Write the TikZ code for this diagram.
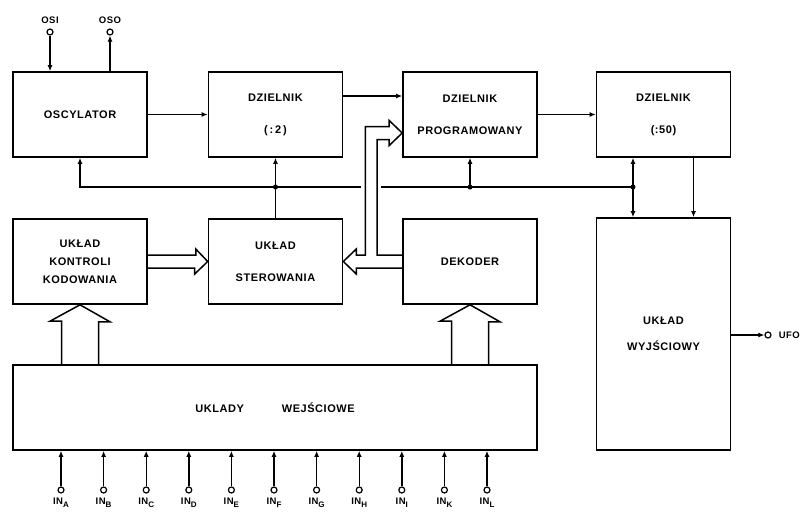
\documentclass[tikz,border=0pt]{standalone}
\usepackage{fontspec}
\newfontfamily\blkfont{Liberation Sans}[LetterSpace=5]
\usetikzlibrary{arrows.meta,calc,positioning}
\newcommand{\insub}[1]{\raisebox{-3pt}{\fontsize{8}{8}\selectfont#1}}

\begin{document}
\begin{tikzpicture}[x=1pt,y=-1pt,
  font=\blkfont\bfseries\fontsize{11}{13}\selectfont,
  blk/.style={draw,line width=1.6pt,minimum width=134pt,minimum height=85pt,align=center,inner sep=2pt},
  sig/.style={-{Latex[length=6pt,width=5pt]},line width=1.4pt},
  ln/.style={line width=1.4pt},
  hollow/.style={line width=1.5pt,line join=miter},
  term/.style={circle,draw,line width=1.2pt,inner sep=0pt,minimum size=6pt,fill=white},
  jn/.style={circle,fill,inner sep=0pt,minimum size=5pt},
  pinlbl/.style={font=\blkfont\bfseries\fontsize{9.5}{10}\selectfont,inner sep=1pt},
]
\useasboundingbox (0,0) rectangle (812,517);
% bloki
\node[blk] (osc) at (80,114.5) {OSCYLATOR};
\node[blk] (dz2) at (275.5,114.5) {DZIELNIK\\[19pt](\,:\,2\,)};
\node[blk] (prog) at (470,114.5) {DZIELNIK\\[19pt]PROGRAMOWANY};
\node[blk] (dz50) at (663.5,114.5) {DZIELNIK\\[19pt](:50)};
\node[blk] (kontr) at (80,261.5) {UKŁAD\\[5pt]KONTROLI\\[5pt]KODOWANIA};
\node[blk] (ster) at (275.5,261.5) {UKŁAD\\[19pt]STEROWANIA};
\node[blk] (dek) at (470,261.5) {DEKODER};
\node[blk,minimum height=232pt] (wyj) at (663.5,334) {UKŁAD\\[13pt]WYJŚCIOWY};
\node[blk,minimum width=524pt] (wej) at (275,407.5) {UKLADY\hspace{38pt}WEJŚCIOWE};
% wejscia i wyjscia oscylatora
\node[term] (osi) at (50,32) {};
\node[term] (oso) at (110,32) {};
\node[pinlbl,above=4pt of osi] {OSI};
\node[pinlbl,above=4pt of oso] {OSO};
\draw[sig] (osi) -- (osi|-osc.north);
\draw[sig] (oso|-osc.north) -- (oso);
% tor sygnalu
\draw[sig] (osc) -- (dz2);
\draw[sig] ($(dz2.east)+(0,-18.5)$) -- ($(prog.west)+(0,-18.5)$);
\draw[sig] (prog) -- (dz50);
% szyna sterujaca
\coordinate (bus) at (0,187);
\coordinate (gapl) at ($(dek.west|-bus)+(-41,0)$);
\coordinate (gapr) at ($(dek.west|-bus)+(-21,0)$);
\coordinate (j50) at ($(dz50.south|-bus)+(-30.5,0)$);
\draw[sig] (gapl) -- (osc.south|-bus) -- (osc.south);
\draw[ln] (gapr) -- (j50);
\draw[ln] (ster.north) -- (dz2.south|-bus);
\draw[sig] (dz2.south|-bus) -- (dz2.south);
\draw[sig] (prog.south|-bus) -- (prog.south);
\draw[sig] (j50) -- (j50|-dz50.south);
\draw[sig] (j50) -- (j50|-wyj.north);
\draw[sig] ($(dz50.south)+(30,0)$) -- ($(wyj.north)+(30,0)$);
\node[jn] at (dz2.south|-bus) {};
\node[jn] at (prog.south|-bus) {};
\node[jn] at (j50) {};
% szerokie strzalki (magistrale)
\draw[hollow] ($(kontr.east)+(0,-6.5)$) -- ++(48,0) -- ++(0,-6) -- (ster.west)
  -- ++(-13,12.5) -- ++(0,-6) -- ($(kontr.east)+(0,6.5)$);
\coordinate (tp) at ($(prog.west)+(0,18.5)$);
\draw[hollow] ($(dek.west)+(0,6.5)$) -- ($(ster.east)+(13,6.5)$) -- ++(0,6) -- (ster.east)
  -- ++(13,-12.5) -- ++(0,6) -- ++(9,0) |- ($(tp)+(-13,-6.5)$) -- ++(0,-6) -- (tp)
  -- ++(-13,12.5) -- ++(0,-6) -| ($(dek.west)+(-25,-6.5)$) -- ++(25,0);
\draw[hollow] ($(kontr.south|-wej.north)+(-18.5,0)$) -- ++(0,-43) -- ++(-11.5,0) -- (kontr.south)
  -- ++(30,17) -- ++(-11.5,0) -- ++(0,43);
\draw[hollow] ($(dek.south|-wej.north)+(-18.5,0)$) -- ++(0,-43) -- ++(-11.5,0) -- (dek.south)
  -- ++(30,17) -- ++(-11.5,0) -- ++(0,43);
% wejscia IN
\foreach \l [count=\i] in {A,B,C,D,E,F,G,H,I,K,L}{
  \node[term] (in\l) at ({61+(\i-1)*42.6},490) {};
  \node[pinlbl,below=3pt of in\l] {IN\insub{\l}};
  \draw[sig] (in\l) -- (in\l|-wej.south);
}
% wyjscie UFO
\node[term] (ufo) at (768,335) {};
\node[pinlbl,right=6pt of ufo] {UFO};
\draw[sig] (wyj.east|-ufo) -- (ufo);
\end{tikzpicture}
\end{document}
